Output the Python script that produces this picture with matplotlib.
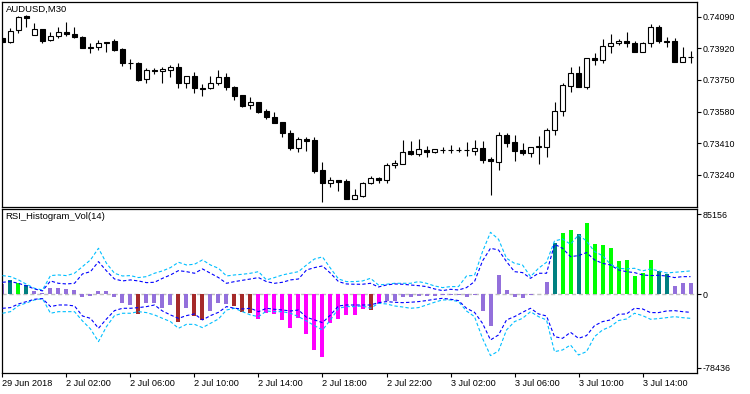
import matplotlib
matplotlib.use("Agg")
import matplotlib.pyplot as plt
import numpy as np

plt.rcParams['font.family'] = ['Liberation Sans', 'DejaVu Sans']

# ---- AUDUSD M30 candles ----
opens = [0.73976, 0.73956, 0.74019, 0.74096, 0.73992, 0.74022, 0.73965, 0.73986, 0.74008, 0.73997,
         0.73979, 0.73922, 0.73925, 0.73956, 0.73958, 0.73915, 0.73839, 0.73839, 0.73753, 0.73803,
         0.73800, 0.73803, 0.73818, 0.73732, 0.73769, 0.73705, 0.73705, 0.73732, 0.73764, 0.73710,
         0.73669, 0.73613, 0.73630, 0.73583, 0.73549, 0.73524, 0.73463, 0.73385, 0.73431, 0.73427,
         0.73264, 0.73194, 0.73212, 0.73206, 0.73111, 0.73127, 0.73194, 0.73221, 0.73212, 0.73292,
         0.73296, 0.73368, 0.73349, 0.73373, 0.73364, 0.73373, 0.73375, 0.73373, 0.73375, 0.73369,
         0.73385, 0.73323, 0.73310, 0.73454, 0.73418, 0.73373, 0.73358, 0.73391, 0.73388, 0.73481,
         0.73583, 0.73717, 0.73789, 0.73710, 0.73866, 0.73857, 0.73933, 0.73947, 0.73958, 0.73947,
         0.73902, 0.73947, 0.74033, 0.73961, 0.73959, 0.73848, 0.73872]
highs = [0.73981, 0.74028, 0.74094, 0.74099, 0.74058, 0.74022, 0.74009, 0.74033, 0.74060, 0.74033,
         0.73986, 0.73947, 0.73965, 0.73956, 0.73969, 0.73921, 0.73861, 0.73848, 0.73813, 0.73813,
         0.73821, 0.73830, 0.73843, 0.73769, 0.73794, 0.73728, 0.73771, 0.73803, 0.73789, 0.73717,
         0.73669, 0.73660, 0.73630, 0.73592, 0.73576, 0.73524, 0.73481, 0.73445, 0.73445, 0.73445,
         0.73307, 0.73226, 0.73212, 0.73215, 0.73162, 0.73201, 0.73233, 0.73229, 0.73301, 0.73319,
         0.73427, 0.73423, 0.73432, 0.73396, 0.73377, 0.73388, 0.73398, 0.73388, 0.73418, 0.73427,
         0.73421, 0.73334, 0.73468, 0.73466, 0.73454, 0.73409, 0.73391, 0.73448, 0.73490, 0.73633,
         0.73735, 0.73821, 0.73825, 0.73866, 0.73896, 0.73969, 0.73997, 0.73969, 0.74006, 0.73961,
         0.73956, 0.74051, 0.74046, 0.73983, 0.73974, 0.73925, 0.73907]
lows = [0.73949, 0.73947, 0.74001, 0.74033, 0.73992, 0.73950, 0.73961, 0.73974, 0.73986, 0.73974,
        0.73921, 0.73896, 0.73911, 0.73902, 0.73907, 0.73827, 0.73808, 0.73746, 0.73732, 0.73782,
        0.73732, 0.73767, 0.73708, 0.73705, 0.73681, 0.73665, 0.73700, 0.73723, 0.73696, 0.73642,
        0.73606, 0.73594, 0.73570, 0.73538, 0.73517, 0.73445, 0.73373, 0.73364, 0.73369, 0.73251,
        0.73095, 0.73176, 0.73154, 0.73111, 0.73111, 0.73122, 0.73190, 0.73197, 0.73197, 0.73275,
        0.73296, 0.73346, 0.73341, 0.73337, 0.73355, 0.73359, 0.73359, 0.73362, 0.73341, 0.73346,
        0.73305, 0.73131, 0.73265, 0.73388, 0.73315, 0.73346, 0.73337, 0.73298, 0.73337, 0.73454,
        0.73556, 0.73687, 0.73710, 0.73700, 0.73830, 0.73839, 0.73893, 0.73939, 0.73929, 0.73902,
        0.73902, 0.73929, 0.73950, 0.73925, 0.73848, 0.73848, 0.73843]
closes = [0.73954, 0.74015, 0.74090, 0.74085, 0.74022, 0.73961, 0.73986, 0.74006, 0.73995, 0.73979,
          0.73921, 0.73925, 0.73947, 0.73947, 0.73911, 0.73839, 0.73843, 0.73750, 0.73803, 0.73800,
          0.73807, 0.73818, 0.73732, 0.73769, 0.73705, 0.73703, 0.73732, 0.73764, 0.73710, 0.73665,
          0.73610, 0.73630, 0.73579, 0.73549, 0.73520, 0.73463, 0.73385, 0.73431, 0.73423, 0.73260,
          0.73194, 0.73210, 0.73202, 0.73111, 0.73129, 0.73195, 0.73222, 0.73212, 0.73292, 0.73301,
          0.73364, 0.73349, 0.73377, 0.73364, 0.73377, 0.73375, 0.73373, 0.73375, 0.73373, 0.73385,
          0.73319, 0.73314, 0.73454, 0.73412, 0.73369, 0.73358, 0.73391, 0.73393, 0.73481, 0.73583,
          0.73723, 0.73786, 0.73714, 0.73866, 0.73857, 0.73933, 0.73947, 0.73958, 0.73947, 0.73902,
          0.73947, 0.74033, 0.73961, 0.73956, 0.73848, 0.73872, 0.73875]

# ---- RSI_Histogram_Vol(14) ----
hist = [11300, 15300, 12400, 9900, 3900, 1800, 7100, 6400, 5700, 4600,
        -2500, -1800, 3500, 3500, -2800, -8900, -11400, -20900, -8900, -8900,
        -14200, -11400, -29100, -14200, -23100, -27300, -17400, -8900, -10300, -12400,
        -19000, -19500, -25900, -20200, -20900, -27300, -35900, -24900, -41900, -59300,
        -66700, -30200, -25900, -21700, -21700, -16000, -16700, -9900, -7100, -7100,
        -2800, -2800, -1800, -1800, -1400, -1000, -1000, -1000, -2500, -1000,
        -17800, -33400, 20600, 4600, -2500, -3500, -300, 300, 13100, 54700,
        65300, 68500, 64300, 76000, 53600, 52500, 49300, 35500, 36600, 19500,
        22700, 36600, 24900, 21700, 8900, 12100, 12100]
hist_kind = list("PTLTPPPPPPPPPPPPPBPPPPBPBBPPPBBBMMMMMMMMMMMMMMBMPPPPPPPPPPPPPPPPPPPPPTLLTLLLLLLLLLTTPPP")

upper_cyan = [19900, 18800, 15300, 10700, 6400, 4600, 19900, 20600, 19900, 22400,
              29500, 36600, 49000, 33000, 22400, 19500, 19900, 17800, 18800, 22400,
              24900, 28400, 34100, 31200, 32000, 36600, 31200, 27700, 19500, 20600,
              21300, 22400, 24100, 15300, 17800, 20600, 22400, 24100, 31200, 37600,
              39800, 27700, 16300, 13500, 13500, 14200, 17000, 9900, 10700, 11700,
              11700, 11700, 13500, 11700, 8900, 7100, 8200, 8200, 19500, 20200,
              45400, 66000, 58600, 38300, 33000, 31200, 18800, 27700, 34100, 56800,
              58900, 53300, 63200, 56800, 45400, 41200, 32000, 27700, 27000, 27700,
              24900, 27000, 24900, 22700, 23400, 24100, 24900]
upper_blue = [12800, 13500, 11700, 8900, 5700, 3600, 14200, 11700, 11000, 11700,
              21700, 24100, 34800, 24900, 16300, 14200, 15300, 14200, 12400, 12800,
              17000, 20600, 25200, 24100, 22400, 27000, 22400, 17800, 11700, 13500,
              14900, 16300, 17800, 13500, 11700, 12800, 15300, 16300, 25900, 28400,
              30200, 22400, 13500, 11000, 10700, 10700, 11700, 7800, 9900, 11000,
              10700, 9900, 9200, 8200, 5700, 3900, 5300, 4600, 7100, 13500,
              35500, 49000, 47200, 34800, 24100, 23100, 17000, 22400, 22400, 53300,
              49000, 40100, 41200, 44400, 36600, 33000, 31200, 25900, 24100, 23100,
              20600, 19900, 20200, 19500, 17800, 18800, 18800]
lower_blue = [-14900, -14200, -10300, -7800, -5300, -4600, -13100, -11400, -11400, -12400,
              -23100, -25600, -36200, -26300, -17400, -14900, -14900, -14200, -13100, -11400,
              -17800, -22000, -25600, -22700, -20900, -27300, -22700, -19200, -13100, -14900,
              -15600, -14900, -18500, -14900, -16000, -16700, -17800, -16700, -24500, -27300,
              -30200, -22000, -12400, -11400, -11400, -11400, -11400, -8900, -7800, -8500,
              -8900, -8500, -7800, -6700, -5300, -4300, -5300, -6700, -14900, -19200,
              -30900, -48600, -43300, -27300, -23800, -19200, -14900, -20900, -23100, -45100,
              -46900, -40500, -46900, -44000, -33400, -29100, -27300, -21300, -20900, -14900,
              -15600, -19500, -19500, -17800, -17400, -18500, -19200]
lower_cyan = [-20200, -18500, -12100, -9200, -6000, -4600, -20200, -18500, -18500, -18500,
              -28400, -36900, -50400, -34400, -22700, -20200, -20200, -18500, -19500, -22000,
              -25600, -29100, -36200, -32000, -32000, -35500, -30900, -26300, -16700, -14900,
              -18500, -22000, -23800, -17800, -18500, -18500, -20200, -23800, -28400, -33400,
              -38000, -27300, -14900, -13100, -13100, -12400, -14900, -9600, -10300, -12400,
              -13500, -14900, -14200, -11400, -8500, -6000, -6000, -7800, -17800, -23800,
              -46900, -65300, -60400, -38000, -29100, -25600, -18500, -23800, -27300, -61100,
              -59300, -54000, -64600, -61100, -45100, -38000, -34400, -28000, -26300, -20200,
              -22700, -26600, -25900, -24900, -23800, -24900, -25600]

price_ticks = [0.74090, 0.73920, 0.73750, 0.73580, 0.73410, 0.73240]
ind_ticks = [85156, 0, -78436]
time_pos = [0, 8, 16, 24, 32, 40, 48, 56, 64, 72, 80]
time_labels = ['29 Jun 2018', '2 Jul 02:00', '2 Jul 06:00', '2 Jul 10:00', '2 Jul 14:00',
               '2 Jul 18:00', '2 Jul 22:00', '3 Jul 02:00', '3 Jul 06:00', '3 Jul 10:00',
               '3 Jul 14:00']

kind_colors = {'P': '#9370DB', 'T': '#008080', 'L': '#00FF00', 'B': '#A52A2A', 'M': '#FF00FF'}

W, H = 750, 394
fig = plt.figure(figsize=(W / 100, H / 100), dpi=100)

def px_axes(x0, y0, x1, y1):
    # axes from pixel box (top-left origin)
    return fig.add_axes([x0 / W, 1 - y1 / H, (x1 - x0) / W, (y1 - y0) / H])

ax1 = px_axes(2, 2, 697, 206.7)
ax2 = px_axes(2, 209.3, 697, 372.7)

x = np.arange(len(opens))
o = np.array(opens); c = np.array(closes)
bull = c >= o

# candles
ax1.vlines(x, lows, highs, color='black', lw=0.8, zorder=1)
body_h = np.abs(c - o)
body_h = np.where(body_h < 0.000005, 0.000005, body_h)
ax1.bar(x, body_h, bottom=np.minimum(o, c), width=0.6,
        color=np.where(bull, 'white', 'black'), edgecolor='black', lw=0.8, zorder=2)

ax1.set_xlim(-0.06, 86.81)
ax1.set_ylim(0.73068, 0.74169)
ax1.yaxis.tick_right()
ax1.set_yticks(price_ticks)
ax1.set_yticklabels(['%.5f' % p for p in price_ticks])
ax1.tick_params(axis='y', length=3, width=0.8, pad=1, labelsize=6.4)
ax1.set_xticks([])
ax1.text(0.0058, 0.985, 'AUDUSD,M30', transform=ax1.transAxes, ha='left', va='top', fontsize=6.8)

# indicator panel
ax2.axhline(0, color='#C0C0C0', lw=1.0, ls=(0, (3, 2)), zorder=1)
ax2.bar(x, hist, width=0.5, color=[kind_colors[k] for k in hist_kind], zorder=2)
dash = (0, (3, 2))
ax2.plot(x, upper_cyan, color='#00BFFF', lw=0.8, ls=dash, zorder=3)
ax2.plot(x, lower_cyan, color='#00BFFF', lw=0.8, ls=dash, zorder=3)
ax2.plot(x, upper_blue, color='#0000FF', lw=0.8, ls=dash, zorder=3)
ax2.plot(x, lower_blue, color='#0000FF', lw=0.8, ls=dash, zorder=3)

ax2.set_xlim(-0.06, 86.81)
ax2.set_ylim(-83500, 90500)
ax2.yaxis.tick_right()
ax2.set_yticks(ind_ticks)
ax2.set_yticklabels([str(v) for v in ind_ticks])
ax2.tick_params(axis='y', length=3, width=0.8, pad=1, labelsize=6.4)
ax2.set_xticks(time_pos)
ax2.set_xticklabels(time_labels)
ax2.tick_params(axis='x', length=3, width=0.8, pad=1.5, labelsize=6.6)
for lab in ax2.get_xticklabels():
    lab.set_ha('left')
ax2.text(0.0045, 0.985, 'RSI_Histogram_Vol(14)', transform=ax2.transAxes, ha='left', va='top', fontsize=6.8)

for ax in (ax1, ax2):
    for s in ax.spines.values():
        s.set_linewidth(0.9)
        s.set_color('black')

fig.savefig('out.png', dpi=100)
